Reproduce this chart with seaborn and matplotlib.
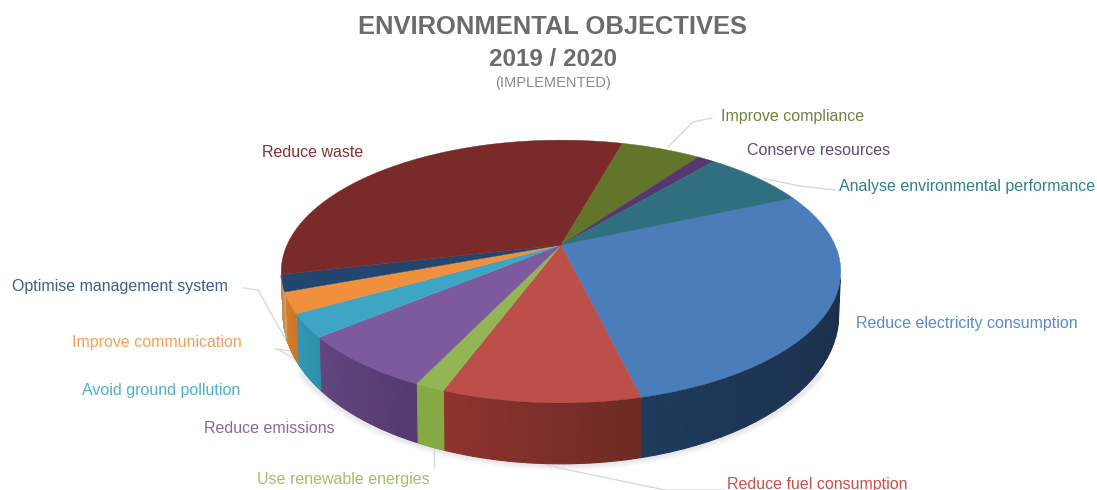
import numpy as np
import matplotlib
matplotlib.use("Agg")
import matplotlib.pyplot as plt
from matplotlib.collections import PolyCollection
from matplotlib.colors import to_rgb
import seaborn as sns

# ---- data ----
categories = ["Reduce electricity consumption", "Reduce fuel consumption", "Use renewable energies",
              "Reduce emissions", "Avoid ground pollution", "Improve communication",
              "Optimise management system", "Reduce waste", "Improve compliance",
              "Conserve resources", "Analyse environmental performance"]
shares = [27.8, 9.45, 1.45, 6.85, 2.85, 2.55, 2.05, 32.9, 5.6, 1.2, 7.3]
top_colors = ["#4b7dbb", "#bd4f4a", "#93b553", "#7d5a9e", "#3fa5c4", "#f08f3c",
              "#23466f", "#7a2a28", "#62752b", "#54386e", "#2f6f80"]
wall_left = ["#1f3a5c", "#8e342e", "#86a845", "#634680", "#3398b5", "#d67f2e",
             "#c98a50", "#7a2826", "#55651f", "#402a55", "#235563"]
wall_right = ["#1b2f4a", "#6e2a24", "#86a845", "#54396e", "#2f8fab", "#c9762a",
              "#d9a070", "#7a2826", "#55651f", "#402a55", "#235563"]
label_colors = ["#5b8ac4", "#c9514c", "#a3c063", "#8567a8", "#4fb0cc", "#f5a05a",
                "#3f5c8c", "#843230", "#6e8340", "#5f4a80", "#31808f"]
title_lines = ["ENVIRONMENTAL OBJECTIVES", "2019 / 2020", "(IMPLEMENTED)"]

# ---- layout ----
CX, CY, A, B, K = 561, 245, 274, 126, 0.2016
DEPTH_BASE, DEPTH_FRONT = 38, 23
START = -23.7

label_pos = [(856, 323, "left"), (727, 484, "left"), (257, 479, "left"), (204, 428, "left"),
             (82, 390, "left"), (72, 342, "left"), (12, 286, "left"), (262, 152, "left"),
             (721, 116, "left"), (747, 150, "left"), (839, 186, "left")]
leaders = [None,
           [(545, 465), (665, 490), (725, 490)],
           [(434, 447), (434, 467)],
           None,
           [(277, 349), (300, 362)],
           [(275, 349), (298, 352)],
           [(244, 288), (258, 290), (300, 365)],
           None,
           [(668, 147), (693, 122), (712, 118)],
           None,
           [(762, 178), (800, 186), (835, 190)]]


def project(t, r=1.0):
    u, v = r * np.cos(t), r * np.sin(t)
    w = 1 - K * v
    return CX + A * u / w, CY + B * v / w


def depth(t):
    return DEPTH_BASE + DEPTH_FRONT * np.sin(t)


sns.set_theme(style="white")
plt.rcParams["font.family"] = ["Liberation Sans", "DejaVu Sans"]
fig = plt.figure(figsize=(10.97, 4.90), dpi=100)
ax = fig.add_axes([0, 0, 1, 1])
ax.set_xlim(0, 1097)
ax.set_ylim(490, 0)
ax.axis("off")

shares_arr = np.array(shares)
edges = np.radians(START) + np.concatenate([[0], np.cumsum(shares_arr)]) / shares_arr.sum() * 2 * np.pi

# soft shadow under the pie
tt = np.linspace(np.radians(32), np.radians(148), 200)
sx, sy = project(tt)
for off, alpha in [(7, 0.05), (5, 0.07), (3, 0.09)]:
    ax.fill(sx + off * np.cos(tt), sy + depth(tt) + off * np.sin(tt), color="#8a94a0", alpha=alpha, lw=0, zorder=1)

# side walls
polys, cols = [], []
limit_lo, limit_hi = np.radians(13.5), np.radians(167)
for i in range(len(shares)):
    ts = np.linspace(edges[i], edges[i + 1], 40)
    ts = ts[(ts >= limit_lo) & (ts <= limit_hi)]
    if len(ts) < 2:
        continue
    c0, c1 = np.array(to_rgb(wall_left[i])), np.array(to_rgb(wall_right[i]))
    for j in range(len(ts) - 1):
        x0, y0 = project(ts[j])
        x1, y1 = project(ts[j + 1])
        polys.append([(x0, y0), (x1, y1),
                      (x1 - 2 * np.cos(ts[j + 1]), y1 + depth(ts[j + 1])),
                      (x0 - 2 * np.cos(ts[j]), y0 + depth(ts[j]))])
        f = 1 - (j / (len(ts) - 1))   # t grows leftwards along the front
        cols.append(c0 * (1 - f) + c1 * f)
ax.add_collection(PolyCollection(polys, facecolors=cols, edgecolors=cols, linewidths=0.8, zorder=2))

# top face
for i in range(len(shares)):
    ts = np.linspace(edges[i], edges[i + 1], 80)
    x, y = project(ts)
    ax.fill(np.r_[CX, x], np.r_[CY, y], color=top_colors[i], lw=0.3, zorder=3)

# leader lines
for seg in leaders:
    if seg:
        xs, ys = zip(*seg)
        ax.plot(xs, ys, color="#d9d9d9", lw=1.0, zorder=1.5, solid_capstyle="round")

# labels
for name, col, (x, y, ha) in zip(categories, label_colors, label_pos):
    ax.text(x, y, name, color=col, fontsize=11.5, ha=ha, va="center", zorder=5)

# titles
ax.text(553, 27, title_lines[0], ha="center", va="center", fontsize=18.4, fontweight="bold", color="#6b6b6b")
ax.text(553, 59, title_lines[1], ha="center", va="center", fontsize=17.4, fontweight="bold", color="#6b6b6b")
ax.text(553, 83, title_lines[2], ha="center", va="center", fontsize=10.5, color="#8a8a8a")

fig.savefig("out.png", dpi=100)
